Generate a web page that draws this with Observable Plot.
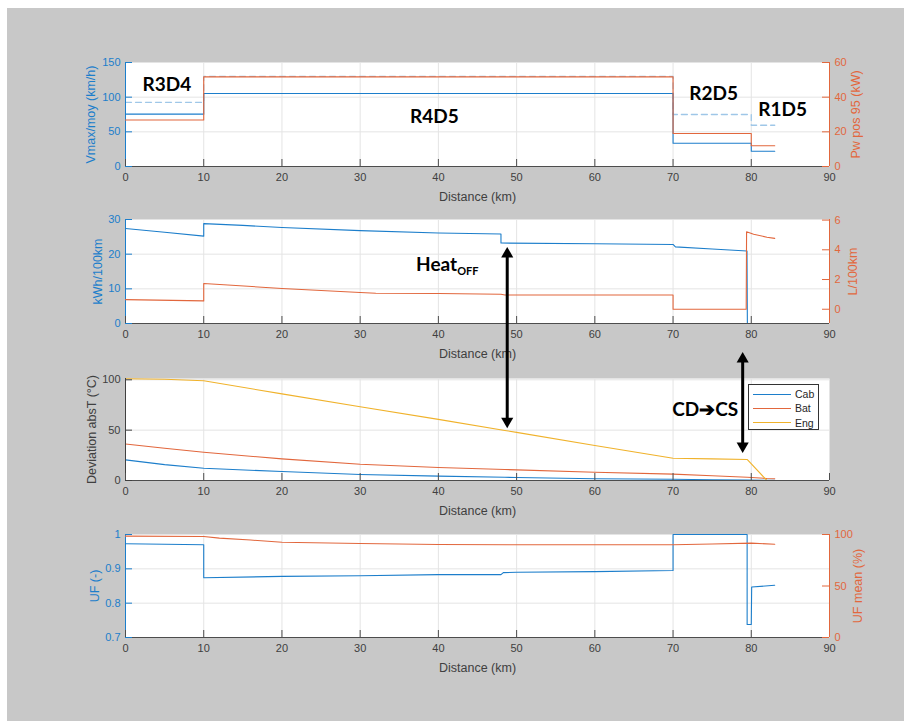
<!DOCTYPE html>
<html><head><meta charset="utf-8">
<script src="https://cdn.jsdelivr.net/npm/d3@7"></script>
<script src="https://cdn.jsdelivr.net/npm/@observablehq/plot@0.6"></script>
<style>
html,body{margin:0;padding:0;background:#fff;}
#fig{position:relative;width:904px;height:721px;overflow:hidden;background:#fff;}
#bg{position:absolute;left:7px;top:8px;right:0;bottom:0;background:#c8c8c8;}
.layer{position:absolute;left:0;}
#legend{position:absolute;left:748px;top:384px;width:71px;height:46px;box-sizing:border-box;background:#fff;border:1px solid #333;font:10.5px "Liberation Sans",Arial,sans-serif;color:#262626;}
#legend .row{position:absolute;left:4px;height:12px;display:flex;align-items:center;}
#legend .sw{width:38px;height:0;border-top:1.2px solid;margin-right:4px;}
</style></head><body><div id="fig"><div id="bg"></div></div>
<script>
// ---------------- DATA ----------------
const xTicks = [0, 10, 20, 30, 40, 50, 60, 70, 80, 90];
const xLabel = "Distance (km)";

// Panel 1 : speeds (left) and power (right), piecewise constant by road segment
const segStart = [0, 10, 70, 80, 83];
const vMoy     = [75.5, 105.3, 33.5, 22, 22];
const vMax     = [92.5, 130, 75, 59.5, 59.5];
const pwPos95  = [26.8, 51.7, 19, 12, 12];
const p1LeftTicks = [0, 50, 100, 150];
const p1RightTicks = [0, 20, 40, 60];
const segNames = ["R3D4", "R4D5", "R2D5", "R1D5"];
const segNameX = [5.3, 39.5, 75.2, 84.0];
const segNameY = [117, 71, 104.5, 81.5];

// Panel 2 : electric consumption (left) and fuel consumption (right)
const elecX = [0, 5, 10, 10, 15, 20, 30, 40, 48, 48, 60, 70, 70.3, 75, 79.45, 79.5, 83];
const elecY = [27.4, 26.3, 25.2, 28.8, 28.3, 27.7, 26.8, 26.1, 25.8, 23.2, 23.0, 22.8, 22.1, 21.5, 20.9, 0, 0];
const fuelX = [0, 10, 10, 20, 30, 32, 40, 48, 48.5, 70, 70, 79.35, 79.4, 80.3, 82, 83];
const fuelY = [0.65, 0.56, 1.73, 1.40, 1.13, 1.08, 1.06, 1.01, 0.96, 0.96, 0, 0, 5.21, 5.05, 4.85, 4.77];
const p2LeftTicks = [0, 10, 20, 30];
const p2RightTicks = [0, 2, 4, 6];

// Panel 3 : temperature deviations
const devX   = [0, 5, 10, 20, 30, 40, 48.5, 50, 60, 70, 75, 79.5, 82, 83];
const devCab = [20.5, 15.8, 12.2, 8.9, 5.9, 4.3, 3.2, 3.0, 1.7, 1.2, 0.8, 0.5, 0.2, 0.2];
const devBat = [36.3, 32, 28, 21.5, 16.1, 12.9, 10.9, 10.6, 8.2, 6.3, 4.7, 3.2, 2.0, 1.7];
const devEng = [101, 100.5, 99, 86, 73.3, 60.7, 49.7, 47.8, 34.7, 22.1, 21.5, 20.8, 0, 0];
const devNames = ["Cab", "Bat", "Eng"];
const p3Ticks = [0, 50, 100];

// Panel 4 : utility factor (left) and mean UF (right)
const ufX = [0, 10, 10, 20, 30, 40, 48, 48.3, 50, 60, 70, 70, 79.47, 79.47, 80, 80.05, 83];
const ufY = [0.973, 0.970, 0.874, 0.878, 0.880, 0.883, 0.883, 0.889, 0.890, 0.892, 0.895, 1.0, 1.0, 0.738, 0.738, 0.847, 0.852];
const ufMeanX = [0, 10, 12, 16, 20, 30, 40, 50, 60, 70, 75, 80, 83];
const ufMeanY = [98.4, 98.1, 96.5, 94.6, 92.5, 91.3, 90.3, 90.0, 90.0, 90.0, 90.8, 91.6, 90.6];
const p4LeftTicks = [0.7, 0.8, 0.9, 1];
const p4RightTicks = [0, 50, 100];

// Annotations
const heatX = 42.4, heatY = 16.8, heatSubY = 14.9;          // panel 2 units
const cdcsX = 74.1, cdcsY = 70.3;                            // panel 3 units
const arrowX = [48.8, 78.9];
const arrowTopP2 = [22.1, -8.2];     // top tip, panel 2 units
const arrowBottomP3 = [52, 27.4];    // bottom tip, panel 3 units

// ---------------- STYLE ----------------
const BLUE = "#1c7ecb", ORANGE = "#e2673d", YELLOW = "#f0b22b", LBLUE = "#9fc7e8";
const AXIS = "#4d4d4d", TXT = "#404040", GRID = "#e4e4e4";
const W = 904, ML = 125, MR = 75, MT = 30, MB = 45, FW = W - ML - MR;
const FONT = "'Liberation Sans', Arial, sans-serif";
const ANNOT = "Lato, 'Open Sans', sans-serif";
const frameTop = [62, 219, 378, 534];
const frameH = [104, 104, 102, 103];
const fig = document.getElementById("fig");

function place(svg, i) {
  svg.classList.add("layer");
  svg.style.top = (frameTop[i] - MT) + "px";
  fig.appendChild(svg);
}
const pts = (xs, ys) => xs.map((x, i) => ({x, y: ys[i]}));
const fmt = d => String(d);

function leftPlot(i, cfg) {
  const h = frameH[i];
  const inner = cfg.ticks.filter(t => t > cfg.domain[0] && t < cfg.domain[1]);
  return Plot.plot({
    width: W, height: MT + h + MB, marginTop: MT, marginBottom: MB, marginLeft: ML, marginRight: MR,
    x: {domain: [0, 90]}, y: {domain: cfg.domain},
    style: {background: "transparent", overflow: "visible", fontFamily: FONT, fontSize: "11px"},
    marks: [
      Plot.frame({fill: "white", stroke: null}),
      Plot.gridX(xTicks.filter(t => t > 0 && t < 90), {stroke: GRID, strokeOpacity: 1}),
      Plot.gridY(inner, {stroke: GRID, strokeOpacity: 1}),
      ...cfg.marks,
      Plot.ruleY([cfg.domain[0]], {stroke: AXIS}),
      Plot.ruleX([0], {stroke: cfg.color}),
      Plot.tickX(xTicks, {insetTop: h - 7, stroke: AXIS}),
      Plot.tickY(cfg.ticks, {insetRight: FW - 7, stroke: cfg.color}),
      Plot.axisX(xTicks, {tickSize: 0, tickPadding: 7, color: TXT, label: null}),
      Plot.axisY(cfg.ticks, {tickSize: 0, tickPadding: 5, color: cfg.color, label: null, tickFormat: fmt}),
      Plot.text([xLabel], {frameAnchor: "bottom", dy: 30, lineAnchor: "middle", fill: TXT, fontSize: 12.5}),
      Plot.text([cfg.label], {frameAnchor: "left", dx: cfg.labelDx, rotate: -90, textAnchor: "middle", lineAnchor: "middle", fill: cfg.color, fontSize: 12.5}),
      ...(cfg.annot || [])
    ]
  });
}
function rightPlot(i, cfg) {
  const h = frameH[i];
  return Plot.plot({
    width: W, height: MT + h + MB, marginTop: MT, marginBottom: MB, marginLeft: ML, marginRight: MR,
    x: {domain: [0, 90], axis: null}, y: {domain: cfg.domain, axis: null},
    style: {background: "transparent", overflow: "visible", fontFamily: FONT, fontSize: "11px"},
    marks: [
      ...cfg.marks,
      Plot.ruleX([90], {stroke: cfg.color}),
      Plot.tickY(cfg.ticks, {insetLeft: FW - 7, stroke: cfg.color}),
      Plot.axisY(cfg.ticks, {anchor: "right", tickSize: 0, tickPadding: 5, color: cfg.color, label: null, tickFormat: fmt}),
      Plot.text([cfg.label], {frameAnchor: "right", dx: cfg.labelDx, rotate: -90, textAnchor: "middle", lineAnchor: "middle", fill: cfg.color, fontSize: 12.5})
    ]
  });
}
const bold = (extra) => ({fontFamily: ANNOT, fontWeight: "bold", fill: "black", ...extra});

// ---- Panel 1
const p1d = [0, 150], p1r = [0, 60];
place(leftPlot(0, {
  domain: p1d, ticks: p1LeftTicks, color: BLUE, label: "Vmax/moy (km/h)", labelDx: -35,
  marks: [
    Plot.line(pts(segStart, vMax), {x: "x", y: "y", curve: "step-after", stroke: LBLUE, strokeWidth: 1.3, strokeDasharray: "6,4"}),
    Plot.line(pts(segStart, vMoy), {x: "x", y: "y", curve: "step-after", stroke: BLUE, strokeWidth: 1.1})
  ],
  annot: [
    Plot.text(segNames, bold({x: (d, i) => segNameX[i], y: (d, i) => segNameY[i], text: d => d, fontSize: 19, textAnchor: "middle", lineAnchor: "middle"}))
  ]
}), 0);
place(rightPlot(0, {
  domain: p1r, ticks: p1RightTicks, color: ORANGE, label: "Pw pos 95 (kW)", labelDx: 26,
  marks: [Plot.line(pts(segStart, pwPos95), {x: "x", y: "y", curve: "step-after", stroke: ORANGE, strokeWidth: 1.1})]
}), 0);

// ---- Panel 2
const p2d = [0, 30], p2r = [-0.96, 6.04];
place(leftPlot(1, {
  domain: p2d, ticks: p2LeftTicks, color: BLUE, label: "kWh/100km", labelDx: -28,
  marks: [Plot.line(pts(elecX, elecY), {x: "x", y: "y", stroke: BLUE, strokeWidth: 1.1})],
  annot: [
    Plot.text(["Heat"], bold({x: heatX, y: heatY, fontSize: 19, textAnchor: "end", lineAnchor: "middle"})),
    Plot.text(["OFF"], bold({x: heatX, y: heatSubY, fontSize: 11, textAnchor: "start", lineAnchor: "middle"}))
  ]
}), 1);
place(rightPlot(1, {
  domain: p2r, ticks: p2RightTicks, color: ORANGE, label: "L/100km", labelDx: 23,
  marks: [Plot.line(pts(fuelX, fuelY), {x: "x", y: "y", stroke: ORANGE, strokeWidth: 1.1})]
}), 1);

// ---- Panel 3
const p3d = [0, 101.3];
// convert arrow tops from panel 2 units to panel 3 units through the two y scales
const y2 = d3.scaleLinear().domain(p2d).range([frameTop[1] + frameH[1], frameTop[1]]);
const y3 = d3.scaleLinear().domain(p3d).range([frameTop[2] + frameH[2], frameTop[2]]);
const arrows = arrowX.map((x, i) => ({x, top: y3.invert(y2(arrowTopP2[i])), bottom: arrowBottomP3[i]}));
const triUp = {draw(c, s) { const y = Math.sqrt(s / (3 * Math.sqrt(3))); c.moveTo(0, -2 * y); c.lineTo(Math.sqrt(3) * y, y); c.lineTo(-Math.sqrt(3) * y, y); c.closePath(); }};
const triDown = {draw(c, s) { const y = Math.sqrt(s / (3 * Math.sqrt(3))); c.moveTo(0, 2 * y); c.lineTo(Math.sqrt(3) * y, -y); c.lineTo(-Math.sqrt(3) * y, -y); c.closePath(); }};
const devColors = [BLUE, ORANGE, YELLOW];
place(leftPlot(2, {
  domain: p3d, ticks: p3Ticks, color: TXT, label: "Deviation absT (°C)", labelDx: -34,
  marks: [
    Plot.line(pts(devX, devCab), {x: "x", y: "y", stroke: BLUE, strokeWidth: 1.1}),
    Plot.line(pts(devX, devBat), {x: "x", y: "y", stroke: ORANGE, strokeWidth: 1.1}),
    Plot.line(pts(devX, devEng), {x: "x", y: "y", stroke: YELLOW, strokeWidth: 1.1})
  ],
  annot: [
    Plot.text(["CD➔CS"], bold({x: cdcsX, y: cdcsY, fontSize: 19, textAnchor: "middle", lineAnchor: "middle"})),
    Plot.ruleX(arrows, {x: "x", y1: "top", y2: "bottom", stroke: "black", strokeWidth: 3, insetTop: 6, insetBottom: 6}),
    Plot.dot(arrows, {x: "x", y: "top", symbol: triUp, r: 4.5, fill: "black", stroke: null, dy: 7}),
    Plot.dot(arrows, {x: "x", y: "bottom", symbol: triDown, r: 4.5, fill: "black", stroke: null, dy: -7})
  ]
}), 2);

// legend
const leg = document.createElement("div");
leg.id = "legend";
devNames.forEach((n, i) => {
  const r = document.createElement("div");
  r.className = "row";
  r.style.top = (3 + i * 14.3) + "px";
  const sw = document.createElement("span");
  sw.className = "sw";
  sw.style.borderTopColor = devColors[i];
  r.appendChild(sw);
  r.appendChild(document.createTextNode(n));
  leg.appendChild(r);
});
fig.appendChild(leg);

// ---- Panel 4
place(leftPlot(3, {
  domain: [0.7, 1], ticks: p4LeftTicks, color: BLUE, label: "UF (-)", labelDx: -31,
  marks: [Plot.line(pts(ufX, ufY), {x: "x", y: "y", stroke: BLUE, strokeWidth: 1.1})]
}), 3);
place(rightPlot(3, {
  domain: [0, 100], ticks: p4RightTicks, color: ORANGE, label: "UF mean (%)", labelDx: 28,
  marks: [Plot.line(pts(ufMeanX, ufMeanY), {x: "x", y: "y", stroke: ORANGE, strokeWidth: 1.1})]
}), 3);
</script></body></html>
